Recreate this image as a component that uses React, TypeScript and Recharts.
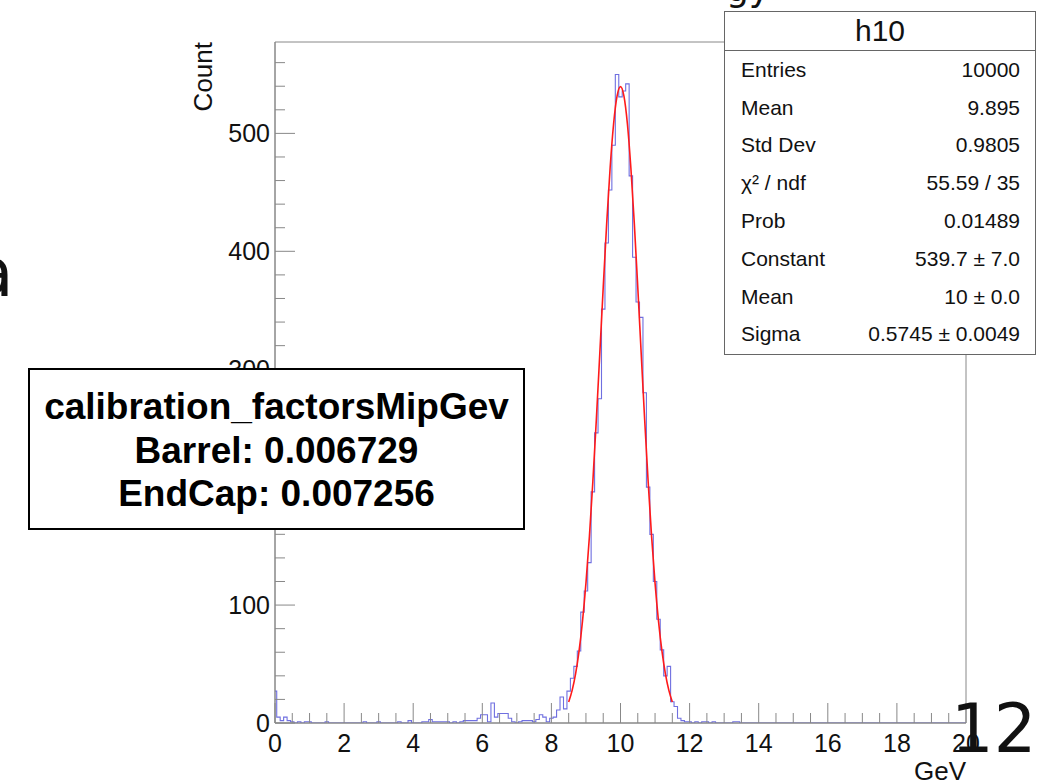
import { ComposedChart, Line, XAxis, YAxis, ReferenceArea } from "recharts";

// histogram h10: one count per 0.1 GeV bin, bins centred on 0.0, 0.1, ... 20.0
const BIN_WIDTH = 0.1;
const histCounts = [
  27, 5, 2, 5, 2, 1, 0, 1, 0, 1, // 0.0
  1, 0, 0, 0, 0, 1, 0, 0, 0, 0, // 1.0
  0, 0, 0, 0, 0, 0, 1, 0, 0, 0, // 2.0
  1, 0, 0, 0, 0, 0, 1, 0, 0, 2, // 3.0
  0, 0, 0, 1, 1, 3, 1, 1, 1, 1, // 4.0
  1, 0, 1, 0, 1, 2, 2, 2, 2, 4, // 5.0
  7, 7, 1, 17, 5, 8, 8, 8, 4, 1, // 6.0
  0, 1, 2, 2, 2, 1, 3, 7, 5, 1, // 7.0
  4, 5, 11, 22, 12, 27, 38, 48, 61, 94, // 8.0
  112, 136, 196, 246, 275, 351, 407, 452, 490, 550, // 9.0
  531, 536, 542, 464, 395, 357, 344, 280, 200, 160, // 10.0
  120, 88, 62, 40, 48, 18, 14, 4, 2, 1, // 11.0
  1, 0, 1, 0, 1, 1, 0, 1, 0, 0, // 12.0
  0, 0, 0, 1, 1, 0, 0, 0, 0, 0, // 13.0
  0, 0, 0, 0, 0, 0, 0, 0, 0, 0, // 14.0
  0, 0, 0, 0, 0, 0, 0, 0, 0, 0, // 15.0
  0, 0, 0, 0, 0, 0, 0, 0, 0, 0, // 16.0
  0, 0, 0, 0, 0, 0, 0, 0, 0, 0, // 17.0
  0, 0, 0, 0, 0, 0, 0, 0, 0, 0, // 18.0
  0, 0, 0, 0, 0, 0, 0, 0, 0, 0, // 19.0
  0, // 20.0
];

// gaussian fit (fit range 8.5 - 11.5)
const fitX = [
  8.5, 8.6, 8.7, 8.8, 8.9, 9.0, 9.1, 9.2, 9.3, 9.4, 9.5, 9.6, 9.7, 9.8, 9.9,
  10.0, 10.1, 10.2, 10.3, 10.4, 10.5, 10.6, 10.7, 10.8, 10.9, 11.0, 11.1, 11.2,
  11.3, 11.4, 11.5,
];
const fitY = [
  17.9, 27.7, 41.7, 60.9, 86.3, 118.6, 158.2, 204.7, 256.9, 312.8, 369.5, 423.5,
  470.9, 508.0, 531.6, 539.7, 531.6, 508.0, 470.9, 423.5, 369.5, 312.8, 256.9,
  204.7, 158.2, 118.6, 86.3, 60.9, 41.7, 27.7, 17.9,
];

const xTicks = [
  0, 0.5, 1, 1.5, 2, 2.5, 3, 3.5, 4, 4.5, 5, 5.5, 6, 6.5, 7, 7.5, 8, 8.5, 9,
  9.5, 10, 10.5, 11, 11.5, 12, 12.5, 13, 13.5, 14, 14.5, 15, 15.5, 16, 16.5, 17,
  17.5, 18, 18.5, 19, 19.5, 20,
];
const xLabels = [0, 2, 4, 6, 8, 10, 12, 14, 16, 18, 20];
const yTicks = [
  0, 20, 40, 60, 80, 100, 120, 140, 160, 180, 200, 220, 240, 260, 280, 300, 320,
  340, 360, 380, 400, 420, 440, 460, 480, 500, 520, 540, 560,
];
const yLabels = [0, 100, 200, 300, 400, 500];
const Y_MAX = 577.5;

const statLabels = [
  "Entries",
  "Mean",
  "Std Dev",
  "χ² / ndf",
  "Prob",
  "Constant",
  "Mean",
  "Sigma",
];
const statValues = [
  "10000",
  "9.895",
  "0.9805",
  "55.59 / 35",
  "0.01489",
  "539.7 ± 7.0",
  "10 ± 0.0",
  "0.5745 ± 0.0049",
];

const calibLines = [
  "calibration_factorsMipGev",
  "Barrel: 0.006729",
  "EndCap: 0.007256",
];

const histData = histCounts.map((count, i) => ({
  x: Math.round(i * BIN_WIDTH * 10) / 10,
  count,
}));
const fitData = fitX.map((x, i) => ({ x, fit: fitY[i] }));

const AXIS = "#888888";

function XTick({ x, y, payload }: any) {
  const v = payload.value;
  const major = xLabels.includes(v);
  return (
    <g>
      <line x1={x} x2={x} y1={y} y2={y - (major ? 20 : 10)} stroke={AXIS} />
      {major && (
        <text x={x} y={y + 29} textAnchor="middle" fontSize={25} fill="#111">
          {v}
        </text>
      )}
    </g>
  );
}

function YTick({ x, y, payload }: any) {
  const v = payload.value;
  const major = yLabels.includes(v);
  return (
    <g>
      <line x1={x} x2={x + (major ? 20 : 10)} y1={y} y2={y} stroke={AXIS} />
      {major && (
        <text x={x - 5} y={y + 9} textAnchor="end" fontSize={25} fill="#111">
          {v}
        </text>
      )}
    </g>
  );
}

function CountTitle({ viewBox }: any) {
  const px = viewBox.x + viewBox.width - 63;
  const py = viewBox.y;
  return (
    <text
      x={px}
      y={py}
      transform={`rotate(-90 ${px} ${py})`}
      textAnchor="end"
      fontSize={26}
      fill="#111"
    >
      Count
    </text>
  );
}

function GevTitle({ viewBox }: any) {
  return (
    <text
      x={viewBox.x + viewBox.width}
      y={viewBox.y + 57}
      textAnchor="end"
      fontSize={26}
      fill="#111"
    >
      GeV
    </text>
  );
}

export default function App() {
  return (
    <div
      style={{
        position: "absolute",
        left: 0,
        top: 0,
        width: 1037,
        height: 782,
        overflow: "hidden",
        background: "#fff",
        fontFamily: '"Liberation Sans", Arial, Helvetica, sans-serif',
      }}
    >
      <div style={{ position: "absolute", left: 0, top: 0 }}>
        <ComposedChart
          width={1037}
          height={782}
          margin={{ top: 42, right: 71, bottom: 29, left: 215 }}
        >
          <XAxis
            type="number"
            dataKey="x"
            domain={[0, 20]}
            ticks={xTicks}
            interval={0}
            tickSize={0}
            tickMargin={0}
            tick={(p: any) => <XTick {...p} />}
            height={30}
            stroke={AXIS}
            allowDataOverflow
            label={<GevTitle />}
          />
          <YAxis
            type="number"
            domain={[0, Y_MAX]}
            ticks={yTicks}
            interval={0}
            tickSize={0}
            tickMargin={0}
            tick={(p: any) => <YTick {...p} />}
            width={60}
            stroke={AXIS}
            allowDataOverflow
            label={<CountTitle />}
          />
          <ReferenceArea
            x1={0}
            x2={20}
            y1={0}
            y2={Y_MAX}
            fill="none"
            fillOpacity={0}
            stroke={AXIS}
          />
          <Line
            data={histData}
            dataKey="count"
            type="step"
            stroke="#6f6fe0"
            strokeWidth={1.1}
            dot={false}
            activeDot={false}
            isAnimationActive={false}
          />
          <Line
            data={fitData}
            dataKey="fit"
            type="monotone"
            stroke="#ff1a1a"
            strokeWidth={1.6}
            dot={false}
            activeDot={false}
            isAnimationActive={false}
          />
        </ComposedChart>
      </div>

      {/* stats box */}
      <div
        style={{
          position: "absolute",
          left: 724,
          top: 11,
          width: 312,
          height: 344,
          border: "1px solid #666",
          background: "#fff",
          boxSizing: "border-box",
          color: "#111",
        }}
      >
        <div
          style={{
            height: 38,
            borderBottom: "1px solid #666",
            textAlign: "center",
            fontSize: 30,
            lineHeight: "38px",
          }}
        >
          h10
        </div>
        {statLabels.map((label, i) => (
          <div
            key={i}
            style={{
              height: 37.8,
              display: "flex",
              justifyContent: "space-between",
              alignItems: "center",
              padding: "0 15px 0 16px",
              fontSize: 21,
            }}
          >
            <span>{label}</span>
            <span>{statValues[i]}</span>
          </div>
        ))}
      </div>

      {/* calibration note */}
      <div
        style={{
          position: "absolute",
          left: 28,
          top: 368,
          width: 497,
          height: 162,
          border: "2px solid #000",
          background: "#fff",
          boxSizing: "border-box",
          paddingTop: 15,
          textAlign: "center",
          fontWeight: "bold",
          fontSize: 37,
          lineHeight: "43.5px",
          color: "#000",
        }}
      >
        {calibLines.map((t, i) => (
          <div key={i}>{t}</div>
        ))}
      </div>

      {/* slide leftovers */}
      <svg
        width={1037}
        height={782}
        style={{ position: "absolute", left: 0, top: 0, pointerEvents: "none" }}
      >
        <text x={-28} y={296} fontSize={68} fontFamily="DejaVu Sans" fill="#111">
          a
        </text>
        <text x={726} y={1} fontSize={36} fontFamily="DejaVu Sans" fill="#111">
          gy
        </text>
        <text x={951} y={752} fontSize={67} fontFamily="DejaVu Sans" fill="#111">
          12
        </text>
      </svg>
    </div>
  );
}
